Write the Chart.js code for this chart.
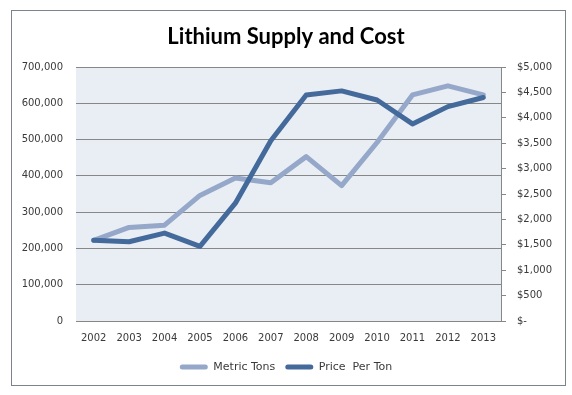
<!DOCTYPE html>
<html>
<head>
<meta charset="utf-8">
<script src="https://cdn.jsdelivr.net/npm/chart.js@4/dist/chart.umd.min.js"></script>
<style>
  html, body { margin: 0; padding: 0; background: #ffffff; }
  #wrap { position: relative; width: 572px; height: 395px; }
</style>
</head>
<body>
<div id="wrap"><canvas id="c" width="572" height="395"></canvas></div>
<script>
const titleText = 'Lithium Supply and Cost';
const years = ['2002','2003','2004','2005','2006','2007','2008','2009','2010','2011','2012','2013'];
const metricTons = [222000, 258000, 264000, 346000, 394000, 381000, 453000, 373000, 492000, 623000, 648000, 623000];
const pricePerTon = [1590, 1560, 1730, 1470, 2320, 3550, 4450, 4530, 4350, 3880, 4220, 4400];
const seriesNames = ['Metric Tons', 'Price  Per Ton'];
const leftTicksMax = 700000, leftStep = 100000;
const rightTicksMax = 5000, rightStep = 500;

const lightColor = '#95A8C9';
const darkColor = '#44699B';
const gridColor = '#878787';
const textColor = '#3a3a3a';

const frame = {
  id: 'frame',
  beforeDraw(chart) {
    const {ctx, chartArea: a} = chart;
    ctx.save();
    ctx.fillStyle = '#ffffff';
    ctx.fillRect(0, 0, chart.width, chart.height);
    ctx.fillStyle = '#E9EDF4';
    ctx.fillRect(a.left, a.top, a.right - a.left, a.bottom - a.top);
    ctx.restore();
  },
  afterDraw(chart) {
    const {ctx} = chart;
    ctx.save();
    ctx.strokeStyle = '#7c848b';
    ctx.lineWidth = 1;
    ctx.strokeRect(11.5, 10.5, 554, 375);
    ctx.restore();
  }
};

new Chart(document.getElementById('c'), {
  type: 'line',
  data: {
    labels: years,
    datasets: [
      { label: seriesNames[0], data: metricTons, yAxisID: 'y', borderColor: lightColor, backgroundColor: lightColor,
        borderWidth: 5, pointRadius: 0, tension: 0, borderJoinStyle: 'round', borderCapStyle: 'round', order: 2 },
      { label: seriesNames[1], data: pricePerTon, yAxisID: 'y1', borderColor: darkColor, backgroundColor: darkColor,
        borderWidth: 5, pointRadius: 0, tension: 0, borderJoinStyle: 'round', borderCapStyle: 'round', order: 1 }
    ]
  },
  options: {
    responsive: false,
    animation: false,
    layout: { padding: { left: 0, right: 0, top: 0, bottom: 12.5 } },
    plugins: {
      title: {
        display: true, text: titleText, color: '#000000',
        font: { family: 'Lato', size: 22, weight: 'bold', lineHeight: 1.2 },
        padding: { top: 23.3, bottom: 17.3 }
      },
      legend: {
        position: 'bottom',
        labels: {
          color: textColor,
          font: { family: 'DejaVu Sans', size: 11 },
          boxWidth: 28, boxHeight: 5, padding: 10,
          useBorderRadius: true, borderRadius: 2.5,
          generateLabels(chart) {
            return chart.data.datasets.map((ds, i) => ({
              text: ds.label, fillStyle: ds.borderColor, strokeStyle: ds.borderColor,
              lineWidth: 0, hidden: false, datasetIndex: i, borderRadius: 2.5, fontColor: textColor
            }));
          }
        }
      },
      tooltip: { enabled: false }
    },
    scales: {
      x: {
        offset: true,
        grid: { display: false, drawTicks: false },
        border: { display: true, color: gridColor, width: 1 },
        ticks: { color: textColor, font: { family: 'DejaVu Sans', size: 10 }, padding: 11, maxRotation: 0, autoSkip: false },
        afterFit(s) { s.height = 30.5; }
      },
      y: {
        position: 'left', min: 0, max: leftTicksMax,
        grid: { color: gridColor, drawTicks: false },
        border: { display: false },
        ticks: { stepSize: leftStep, color: textColor, font: { family: 'DejaVu Sans', size: 10 }, padding: 13,
          callback: v => v.toLocaleString('en-US') },
        afterFit(s) { s.width = 76; }
      },
      y1: {
        position: 'right', min: 0, max: rightTicksMax,
        grid: { drawOnChartArea: false, drawTicks: true, tickLength: 5, color: gridColor },
        border: { display: true, color: gridColor, width: 1 },
        ticks: { stepSize: rightStep, color: textColor, font: { family: 'DejaVu Sans', size: 10 }, padding: 11,
          callback: v => v === 0 ? '$-' : '$' + v.toLocaleString('en-US') },
        afterFit(s) { s.width = 71; }
      }
    }
  },
  plugins: [frame]
});
</script>
</body>
</html>
